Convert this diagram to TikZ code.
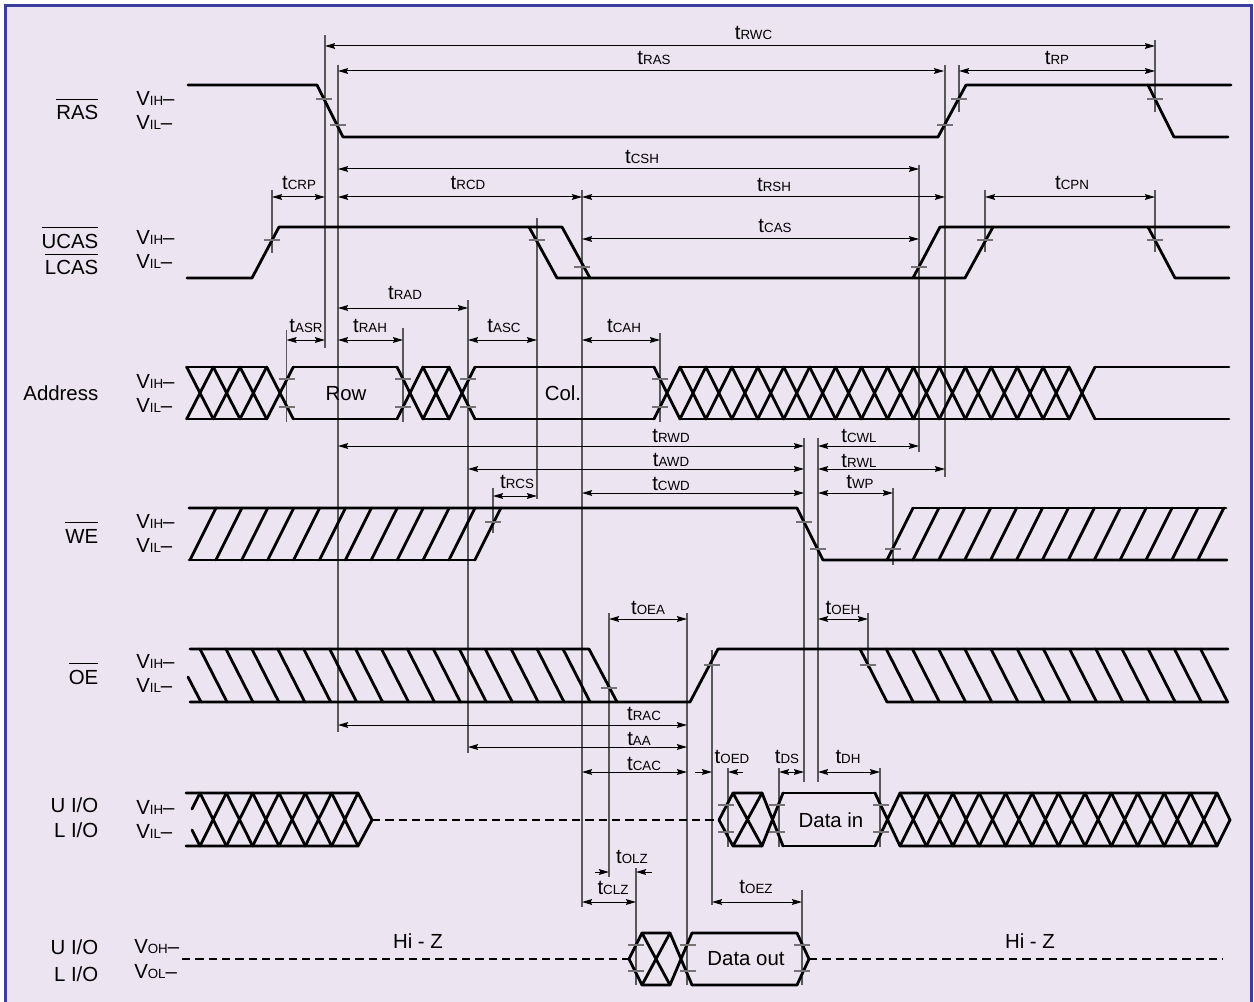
\documentclass[tikz,border=0pt]{standalone}
\usepackage{fontspec}
\setmainfont{Liberation Sans}
\usetikzlibrary{arrows.meta,calc}
\definecolor{bgc}{RGB}{236,228,240}
\definecolor{frm}{RGB}{58,62,160}
\newcommand\ts[1]{t{\fontsize{10}{12}\selectfont #1}}
\newcommand\ovl[1]{\vbox{\hrule height 0.8pt\kern 4.6pt\hbox{#1}}}
\begin{document}
\begin{tikzpicture}[x=0.75pt,y=-0.75pt,
  sig/.style={line width=2.1pt,line cap=round,line join=round},
  hz/.style={line width=2pt,dash pattern=on 6.2pt off 3.8pt},
  vl/.style={line width=0.9pt,draw=black!65},
  tkm/.style={line width=0.8pt,draw=black!55},
  dimar/.style={line width=0.75pt,{Stealth[length=7.5pt,width=4.3pt,inset=1pt]}-{Stealth[length=7.5pt,width=4.3pt,inset=1pt]}},
  onear/.style={line width=0.75pt,-{Stealth[length=7.5pt,width=4.3pt,inset=1pt]}},
  lab/.style={font=\fontsize{15.3}{18}\selectfont,inner sep=0pt,anchor=base},
  ]
\useasboundingbox (0,0) rectangle (1254,1002);
% frame
\fill[bgc] (5.5,6) rectangle (1251.5,1012);
\draw[frm,line width=2.25pt] (5.5,1012) -- (5.5,6) -- (1251.5,6) -- (1251.5,1012);

% reference verticals
\foreach \x/\a/\b in {325/35/348, 338/65/732, 1155/40/112, 945/65/477, 959/65/112,
  919/165/452, 582/190/907, 272/190/253, 985/190/252, 1155/190/252, 537/218/499,
  286.5/330/422, 403/328/422, 468/300/753, 660/333/422, 493/488/533, 804/438/782,
  818/438/782, 893/488/565, 609/613/877, 687/613/985, 712/650/905, 868/613/668,
  728/768/847, 779/768/847, 880/768/847, 636/868/985, 802/890/985}
  {\draw[vl] (\x,\a) -- (\x,\b);}

% ---------- RAS ----------
\draw[sig] (188,85) -- (317,85) -- (343,137) -- (938,137) -- (966,85) -- (1231,85);
\draw[sig] (1148,85) -- (1174,137) -- (1228,137);
% ---------- UCAS/LCAS ----------
\draw[sig] (187,278) -- (252,278) -- (279,227) -- (562,227) -- (590,278);
\draw[sig] (529,227) -- (557,278) -- (965,278) -- (993,227) -- (1229,227);
\draw[sig] (913,278) -- (940,227) -- (993,227);
\draw[sig] (1148,227) -- (1175,278) -- (1229,278);

% ---------- Address ----------
\foreach \c in {200,226.67,253.33,280}
  {\draw[sig] ({\c-13.33},367) -- ({\c+13.33},419) ({\c-13.33},419) -- ({\c+13.33},367);}
\foreach \c in {410,436,462}
  {\draw[sig] ({\c-13},367) -- ({\c+13},419) ({\c-13},419) -- ({\c+13},367);}
\foreach \k in {0,...,16}
  {\pgfmathsetmacro\c{667+25.94*\k}
   \draw[sig] ({\c-12.97},367) -- ({\c+12.97},419) ({\c-12.97},419) -- ({\c+12.97},367);}
\foreach \a/\b in {186.67/266.67, 293.33/397, 423/449, 475/654, 680/1069, 1095/1229}
  {\draw[sig] (\a,367) -- (\b,367) (\a,419) -- (\b,419);}

% ---------- WE ----------
\draw[sig] (189,508) -- (797,508) -- (823,560) -- (1227,560);
\draw[sig] (189,560) -- (475,560);
\foreach \k in {0,...,11}
  {\draw[sig] ({190+25.9*\k},560) -- ({216+25.9*\k},508);}
\draw[sig] (913,508) -- (1226,508);
\foreach \k in {0,...,12}
  {\draw[sig] ({887+25.9*\k},560) -- ({913+25.9*\k},508);}

% ---------- OE ----------
\draw[sig] (190,649) -- (589,649) -- (617,702);
\draw[sig] (190,702) -- (690,702) -- (718,649) -- (1228,649);
\draw[sig] (860,649) -- (887,702) -- (1228,702);
\draw[sig] (188,677) -- (201,702);
\foreach \k in {0,...,14}
  {\draw[sig] ({200+25.93*\k},649) -- ({227+25.93*\k},702);}
\foreach \k in {1,...,13}
  {\draw[sig] ({860+26.2*\k},649) -- ({887+26.2*\k},702);}

% ---------- I/O input ----------
\draw[sig] (186,793) -- (358,793) -- (372,820) -- (358,846) -- (186,846);
\foreach \k in {0,...,5}
  {\draw[sig] ({200+26.33*\k},793) -- ({226.33+26.33*\k},846)
              ({200+26.33*\k},846) -- ({226.33+26.33*\k},793);}
\draw[sig] (192,809) -- (200,793) (192,830) -- (200,846);
\draw[hz] (372,820) -- (719,820);
\draw[sig] (762,793) -- (733,793) -- (719,820) -- (733,846) -- (762,846);
\draw[sig] (733,793) -- (762,846) (733,846) -- (762,793);
\draw[sig] (762,793) -- (783,846) (762,846) -- (783,793);
\draw[sig] (783,793) -- (875,793) (783,846) -- (875,846);
\draw[sig] (875,793) -- (900,846) (875,846) -- (900,793);
\draw[sig] (900,793) -- (1217,793) -- (1230,820) -- (1217,846) -- (900,846);
\foreach \k in {0,...,11}
  {\draw[sig] ({900+26.42*\k},793) -- ({926.42+26.42*\k},846)
              ({900+26.42*\k},846) -- ({926.42+26.42*\k},793);}

% ---------- I/O output ----------
\draw[hz] (182,959) -- (629,959);
\draw[sig] (670,933) -- (642,933) -- (629,959) -- (642,985) -- (670,985);
\draw[sig] (642,933) -- (670,985) (642,985) -- (670,933);
\draw[sig] (670,933) -- (692,985) (670,985) -- (692,933);
\draw[sig] (692,933) -- (797,933) -- (809,959) -- (797,985) -- (692,985);
\draw[hz] (809,959) -- (1223,959);

% ---------- threshold ticks ----------
\foreach \x/\y in {324/99, 338/125, 945/125, 959/99, 1155/99,
  272/240, 537/240, 582/267, 919/267, 985/240, 1155/240,
  287/379, 287/407, 403/379, 403/407, 468/379, 468/407, 660/379, 660/407,
  493/522, 804/522, 818/549, 893/549,
  609/688, 712/665, 868/665,
  726/805, 726/832, 777/805, 777/832, 881/805, 881/832,
  636/945, 636/971, 688/945, 688/971, 802/945, 802/971}
  {\draw[tkm] ({\x-8},\y) -- ({\x+8},\y);}

% ---------- timing dimensions ----------
\foreach \n/\y/\a/\b/\lx/\ly in {RWC/46/325/1155/753.5/39.5, RAS/71/338/944/654/65,
  RP/71/959/1155/1057/65, CSH/169/338/919/642/164, RCD/197/338/582/468/190,
  RSH/197/582/945/774/192, CAS/239/582/919/775/233, CRP/197/272/325/299/190,
  CPN/197/985/1155/1072/190, RAD/308/338/468/405/300, ASR/340/286.5/325/306/332,
  RAH/340/338/403/370/332, ASC/340/468/537/504/332, CAH/340/582/660/624/332,
  RWD/446/338/804/671/442, AWD/469/468/804/671/466, CWD/493/582/804/671/490,
  RCS/496/493/537/517/488, CWL/446/818/919/859/442, RWL/469/818/945/859/467,
  WP/493/818/893/860/488, OEA/619/609/687/648/614, OEH/619/818/868/843/614,
  RAC/725/338/687/644/720, AA/747/468/687/639/745, CAC/772/582/687/644/770,
  DS/772/779/804/787/763, DH/772/818/880/848/763, CLZ/902/582/636/613/894,
  OEZ/902/712/802/756/893}
  {\draw[dimar] (\a,\y) -- (\b,\y);
   \node[lab] (t\n) at (\lx,\ly) {\ts{\n}};}
\draw[onear] (695,772) -- (712,772);
\draw[onear] (743,772) -- (728,772);
\node[lab] (tOED) at (732,763) {\ts{OED}};
\draw[onear] (595,872) -- (609,872);
\draw[onear] (652,872) -- (636,872);
\node[lab] (tOLZ) at (632,863) {\ts{OLZ}};

% ---------- signal names ----------
\node[lab,anchor=base east] (nRAS) at (98.5,120) {\ovl{RAS}};
\node[lab,anchor=base east] (nUCAS) at (98.5,248) {\ovl{UCAS}};
\node[lab,anchor=base east] (nLCAS) at (98.5,275) {\ovl{LCAS}};
\node[lab,anchor=base east] (nAddr) at (98.5,400) {Address};
\node[lab,anchor=base east] (nWE) at (98.5,543) {\ovl{WE}};
\node[lab,anchor=base east] (nOE) at (98.5,684) {\ovl{OE}};
\node[lab,anchor=base east] (nUIOa) at (98.5,812) {U I/O};
\node[lab,anchor=base east] (nLIOa) at (98.5,837) {L I/O};
\node[lab,anchor=base east] (nUIOb) at (98.5,954) {U I/O};
\node[lab,anchor=base east] (nLIOb) at (98.5,981) {L I/O};

% ---------- level labels ----------
\foreach \n/\s/\y in {a/IH/106, b/IL/130, c/IH/245, d/IL/268, e/IH/388, f/IL/412,
  g/IH/528, h/IL/552, i/IH/668, j/IL/692, k/IH/814, l/IL/838}
  {\node[lab,anchor=base west] (v\n) at (136,\y) {V{\fontsize{10}{12}\selectfont\s}\textendash};}
\node[lab,anchor=base west] (vm) at (134,953) {V{\fontsize{10}{12}\selectfont OH}\textendash};
\node[lab,anchor=base west] (vn) at (134,978) {V{\fontsize{10}{12}\selectfont OL}\textendash};

% ---------- box texts ----------
\node[lab] (row) at (346,400) {Row};
\node[lab] (col) at (563,400) {Col.};
\node[lab] (din) at (831,827) {Data in};
\node[lab] (dout) at (746,965) {Data out};
\node[lab] (hza) at (418,948) {Hi - Z};
\node[lab] (hzb) at (1030,948) {Hi - Z};
\end{tikzpicture}
\end{document}
